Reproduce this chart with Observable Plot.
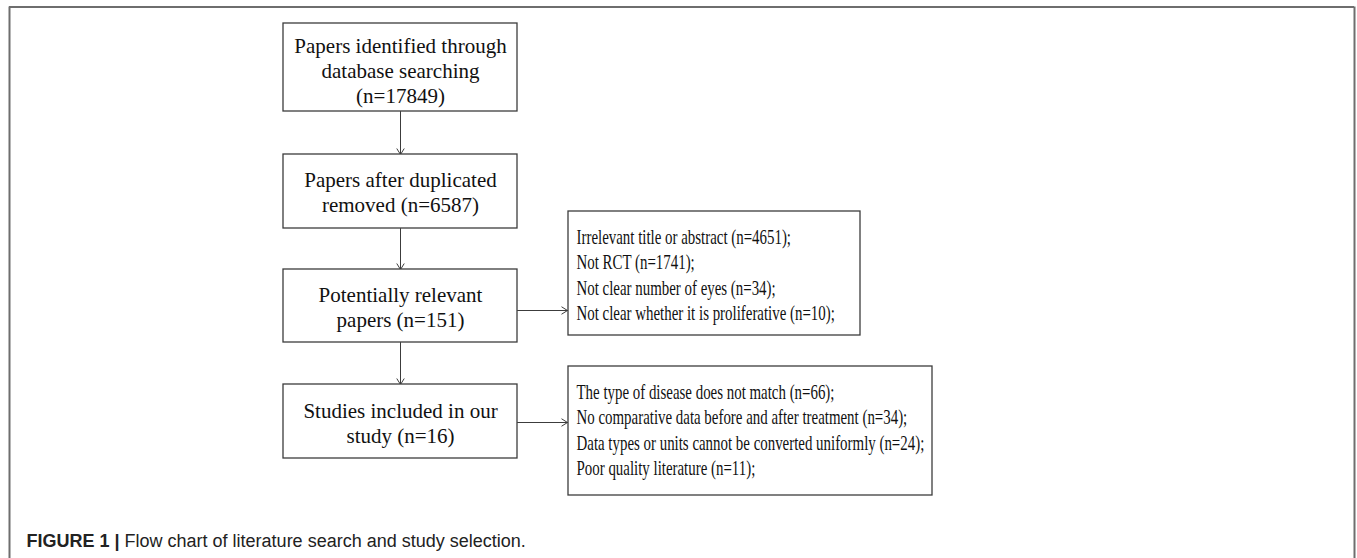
<!DOCTYPE html>
<html>
<head>
<meta charset="utf-8">
<script src="https://cdn.jsdelivr.net/npm/d3@7"></script>
<script src="https://cdn.jsdelivr.net/npm/@observablehq/plot@0.6"></script>
<style>
  html, body { margin: 0; padding: 0; background: #fff; }
  svg { display: block; }
</style>
</head>
<body>
<div id="chart"></div>
<script>
// ---------- data ----------
const stageLabels = [
  "Papers identified through\ndatabase searching",
  "Papers after duplicated\nremoved",
  "Potentially relevant\npapers",
  "Studies included in our\nstudy"
];
const stageCounts = [17849, 6587, 151, 16];
const stageCountSep = ["\n", " ", " ", " "];

const exclusion1Reasons = [
  "Irrelevant title or abstract",
  "Not RCT",
  "Not clear number of eyes",
  "Not clear whether it is proliferative"
];
const exclusion1Counts = [4651, 1741, 34, 10];

const exclusion2Reasons = [
  "The type of disease does not match",
  "No comparative data before and after treatment",
  "Data types or units cannot be converted uniformly",
  "Poor quality literature"
];
const exclusion2Counts = [66, 34, 24, 11];

const captionBold = "FIGURE 1 |";
const captionText = " Flow chart of literature search and study selection.";

// ---------- layout (drawing units = pixels of the figure) ----------
const W = 1357, H = 558;
const stageLayout = [
  {x1: 283, x2: 517, y1: 23,  y2: 111, dy: 2},
  {x1: 283, x2: 517, y1: 154, y2: 228, dy: 0},
  {x1: 283, x2: 517, y1: 269, y2: 342, dy: 0},
  {x1: 283, x2: 517, y1: 384, y2: 458, dy: 1}
];
const exclusionLayout = [
  {x1: 568, x2: 860, y1: 211, y2: 335, from: 2, ay: 310},
  {x1: 568, x2: 932, y1: 366, y2: 495, from: 3, ay: 422}
];

// ---------- build tables ----------
const stages = stageLabels.map((l, i) => ({
  ...stageLayout[i],
  label: `${l}${stageCountSep[i]}(n=${stageCounts[i]})`
}));
const exclusionGroups = [
  exclusion1Reasons.map((r, i) => `${r} (n=${exclusion1Counts[i]});`),
  exclusion2Reasons.map((r, i) => `${r} (n=${exclusion2Counts[i]});`)
];
const exBoxes = exclusionLayout;
const exLines = exclusionGroups.flatMap((lines, g) =>
  lines.map((t, i) => ({x: exBoxes[g].x1 + 8, y: exBoxes[g].y1 + 26 + 25.2 * i, text: t}))
);
const vArrows = stages.slice(1).map((s, i) => ({
  x1: (stages[i].x1 + stages[i].x2) / 2, y1: stages[i].y2,
  x2: (s.x1 + s.x2) / 2, y2: s.y1
}));
const hArrows = exBoxes.map(b => ({
  x1: stages[b.from].x2, y1: b.ay, x2: b.x1 - 1, y2: b.ay
}));
const arrows = vArrows.concat(hArrows);

const serif = "'Times New Roman', 'Liberation Serif', serif";
const sans = "Arial, 'Liberation Sans', Helvetica, sans-serif";
const lineCol = "#3c3c3c";
const frameCol = "#6e6e6e";

const plot = Plot.plot({
  width: W,
  height: H,
  margin: 0,
  x: {domain: [0, W], range: [0, W], axis: null},
  y: {domain: [0, H], range: [0, H], axis: null},
  style: {background: "#fff"},
  marks: [
    // outer frame
    Plot.ruleY([{y: 6.5}], {y: "y", x1: 9, x2: 1354, stroke: frameCol, strokeWidth: 2}),
    Plot.ruleX([{x: 9}, {x: 1354}], {x: "x", y1: 6.5, y2: H, stroke: frameCol, strokeWidth: 2}),
    // arrows
    Plot.arrow(arrows, {x1: "x1", y1: "y1", x2: "x2", y2: "y2",
      stroke: lineCol, strokeWidth: 1, headLength: 10, headAngle: 64, bend: 0}),
    // boxes
    Plot.rect(stages, {x1: "x1", x2: "x2", y1: "y1", y2: "y2",
      fill: "#fff", stroke: lineCol, strokeWidth: 1.3}),
    Plot.rect(exBoxes, {x1: "x1", x2: "x2", y1: "y1", y2: "y2",
      fill: "#fff", stroke: lineCol, strokeWidth: 1.3}),
    // stage labels
    Plot.text(stages, {
      x: d => (d.x1 + d.x2) / 2, y: d => (d.y1 + d.y2) / 2 + d.dy,
      text: "label", fontFamily: serif, fontSize: 21, lineHeight: 25 / 21,
      lineAnchor: "middle", textAnchor: "middle", fill: "#111"
    }),
    // exclusion lines
    Plot.text(exLines, {
      x: "x", y: "y", text: "text", fontFamily: serif, fontSize: 21,
      textAnchor: "start", lineAnchor: "middle", fill: "#111"
    }),
    // caption
    Plot.text([captionBold + captionText], {
      x: 26, y: 541, text: d => d, fontFamily: sans, fontSize: 18,
      textAnchor: "start", lineAnchor: "middle", fill: "#222"
    })
  ]
});

const textGroups = plot.querySelectorAll('g[aria-label="text"]');
const exGroup = textGroups[1];
const capGroup = textGroups[2];

// condense the exclusion text horizontally, like the original narrow serif
if (exGroup) exGroup.querySelectorAll("text").forEach(t => {
  const tr = t.getAttribute("transform");
  if (tr) {
    t.setAttribute("transform", tr + " scale(0.71,1)");
  } else {
    const x = +t.getAttribute("x") || 0, y = +t.getAttribute("y") || 0;
    t.removeAttribute("x"); t.removeAttribute("y");
    t.setAttribute("transform", `translate(${x},${y}) scale(0.71,1)`);
  }
});

// caption: bold figure label, regular description
if (capGroup) capGroup.querySelectorAll("text").forEach(t => {
  while (t.firstChild) t.removeChild(t.firstChild);
  const ns = "http://www.w3.org/2000/svg";
  const b = document.createElementNS(ns, "tspan");
  b.setAttribute("font-weight", "bold");
  b.textContent = captionBold;
  const r = document.createElementNS(ns, "tspan");
  r.textContent = captionText;
  t.appendChild(b); t.appendChild(r);
  t.style.whiteSpace = "pre";
});

document.getElementById("chart").appendChild(plot);
</script>
</body>
</html>
